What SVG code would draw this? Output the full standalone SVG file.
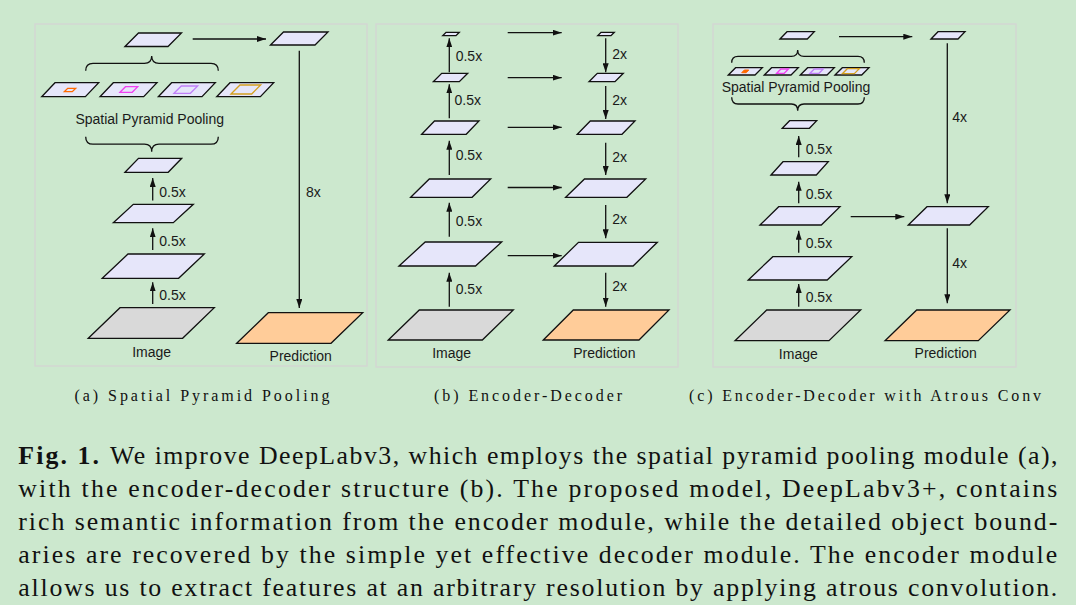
<svg xmlns="http://www.w3.org/2000/svg" width="1076" height="605" viewBox="0 0 1076 605">
<defs>
<marker id="ah" viewBox="0 0 9 6" refX="9" refY="3" markerWidth="9" markerHeight="6" markerUnits="userSpaceOnUse" orient="auto">
<path d="M0,0 L9,3 L0,6 z" fill="#111"/>
</marker>
<style>
.fm{fill:#E6E6FA;stroke:#111;stroke-width:1.3;stroke-linejoin:miter}
.img{fill:#D9D9D9;stroke:#111;stroke-width:1.3}
.pred{fill:#FFCC99;stroke:#111;stroke-width:1.3}
.panel{fill:none;stroke:#d3d8d3;stroke-width:1.6}
.c{stroke:#111;stroke-width:1.3;fill:none;marker-end:url(#ah)}
.br{stroke:#111;stroke-width:1.3;fill:none}
.lbl{font-family:"Liberation Sans",Arial,sans-serif;font-size:14px;fill:#1a1a1a}
.mid{text-anchor:middle}
.sub{font-family:"Liberation Serif","Times New Roman",serif;font-size:16px;fill:#111}
.cap{font-family:"Liberation Serif","Times New Roman",serif;font-size:25.8px;fill:#111}
.or{fill:none;stroke:#FF6A00;stroke-width:1.3}
.mg{fill:none;stroke:#F040F0;stroke-width:1.3}
.vi{fill:none;stroke:#C080F8;stroke-width:1.3}
.gd{fill:none;stroke:#D4A020;stroke-width:1.3}
</style>
</defs>
<rect x="0" y="0" width="1076" height="605" fill="#CCE8CE"/>

<g id="panels">
<rect class="panel" x="35" y="24" width="332" height="342"/>
<rect class="panel" x="376" y="24" width="302" height="343"/>
<rect class="panel" x="713" y="24" width="303" height="343"/>
</g>

<!-- Panel (a) -->
<g id="a-top"><polygon class="fm" points="125,46.5 138.5,33 181.5,33 168,46.5"/></g>
<g id="a-topR"><polygon class="fm" points="270.5,45 283.5,32 328,32 315,45"/></g>
<g id="a-spp">
<polygon class="fm" points="41.7,96.7 55,82.7 98.7,82.7 85.4,96.7"/>
<polygon class="or" points="64.3,91.7 67.7,88.3 75.7,88.3 72.3,91.7"/>
<polygon class="fm" points="100,96.7 113.3,82.7 157,82.7 143.7,96.7"/>
<polygon class="mg" points="120,92.3 125.5,86.7 137.7,86.7 132.2,92.3"/>
<polygon class="fm" points="158.3,96.7 171.6,82.7 215.3,82.7 202,96.7"/>
<polygon class="vi" points="174,93.3 181.3,86 197.7,86 190.4,93.3"/>
<polygon class="fm" points="216.7,96.7 230,82.7 273.7,82.7 260.4,96.7"/>
<polygon class="gd" points="231,94 240,85 260.7,85 251.7,94"/>
<text class="lbl mid" x="149.7" y="123.5">Spatial Pyramid Pooling</text>
<path class="br" d="M85.7,70.7 Q85.7,63.3 93,63.3 L144.4,63.3 Q151.7,63.3 151.7,56 Q151.7,63.3 159,63.3 L211,63.3 Q218.3,63.3 218.3,70.7"/>
<path class="br" d="M85.7,136.7 Q85.7,144.2 93,144.2 L144.4,144.2 Q151.7,144.2 151.7,151.7 Q151.7,144.2 159,144.2 L211,144.2 Q218.3,144.2 218.3,136.7"/>
</g>
<g id="a-f3"><polygon class="fm" points="125,172.3 138.5,158.3 181.7,158.3 168.2,172.3"/></g>
<g id="a-f2"><polygon class="fm" points="113.3,222.7 133.3,204.3 193.3,204.3 173.3,222.7"/></g>
<g id="a-f1"><polygon class="fm" points="102.3,278.3 128,254 204.3,254 178.6,278.3"/></g>
<g id="a-image"><polygon class="img" points="88.3,338.3 120,307.7 214.3,307.7 182.6,338.3"/><text class="lbl mid" x="151.7" y="357">Image</text></g>
<g id="a-pred"><polygon class="pred" points="236.7,343.3 268.3,312.7 362.7,312.7 331,343.3"/><text class="lbl mid" x="300.7" y="360.5">Prediction</text></g>

<!-- Panel (b) -->
<g id="b-e5"><polygon class="fm" points="442.7,35.7 446,32.3 459.3,32.3 456,35.7"/></g>
<g id="b-e4"><polygon class="fm" points="433.3,81.7 441.7,73.3 467.7,73.3 459.3,81.7"/></g>
<g id="b-e3"><polygon class="fm" points="421.7,134.3 434.5,121 479,121 466.2,134.3"/></g>
<g id="b-e2"><polygon class="fm" points="410.7,197.3 429.3,179 490.7,179 472.1,197.3"/></g>
<g id="b-e1"><polygon class="fm" points="399,266 425.2,242 501.7,242 475.5,266"/></g>
<g id="b-image"><polygon class="img" points="388.3,340 419.3,310 513.3,310 482.3,340"/><text class="lbl mid" x="451.7" y="358.3">Image</text></g>
<g id="b-d5"><polygon class="fm" points="597.7,35.7 601,32.3 614.3,32.3 611,35.7"/></g>
<g id="b-d4"><polygon class="fm" points="589,81.7 597.3,73.3 623.3,73.3 615,81.7"/></g>
<g id="b-d3"><polygon class="fm" points="577.3,134.3 590.3,121 635,121 622,134.3"/></g>
<g id="b-d2"><polygon class="fm" points="565.7,197.3 584.5,179 645.7,179 626.9,197.3"/></g>
<g id="b-d1"><polygon class="fm" points="554.3,266 578.5,242.3 657.3,242.3 633.1,266"/></g>
<g id="b-pred"><polygon class="pred" points="543.3,340 573.3,310 669,310 639,340"/><text class="lbl mid" x="604.3" y="358.3">Prediction</text></g>

<!-- Panel (c) -->
<g id="c-top"><polygon class="fm" points="780,39 787,31.7 814.3,31.7 807.3,39"/></g>
<g id="c-topR"><polygon class="fm" points="931,39 938,31.7 965,31.7 958,39"/></g>
<g id="c-spp">
<polygon class="fm" points="728.3,75 735.6,67.7 762.3,67.7 755,75"/>
<polygon points="741.7,72.7 744.3,70 748.8,70 746.2,72.7" fill="#FF6A00" stroke="#FF6A00" stroke-width="1"/>
<polygon class="fm" points="764.3,75 771.6,67.7 798.3,67.7 791,75"/>
<polygon class="mg" points="776.7,73.3 781,69 788.5,69 784.2,73.3"/>
<polygon class="fm" points="800.3,75 807.6,67.7 834.3,67.7 827,75"/>
<polygon class="vi" points="810,73.3 814.3,69 823.3,69 819,73.3"/>
<polygon class="fm" points="835,75 842.3,67.7 869,67.7 861.7,75"/>
<polygon class="gd" points="842.3,73.7 847.3,68.7 859.3,68.7 854.3,73.7"/>
<text class="lbl mid" x="796" y="91.5">Spatial Pyramid Pooling</text>
<path class="br" d="M731.7,62.7 Q731.7,56.4 738,56.4 L791.4,56.4 Q797.7,56.4 797.7,50 Q797.7,56.4 804,56.4 L858,56.4 Q864.3,56.4 864.3,62.7"/>
<path class="br" d="M731.7,97.3 Q731.7,104 738,104 L791.4,104 Q797.7,104 797.7,110.7 Q797.7,104 804,104 L858,104 Q864.3,104 864.3,97.3"/>
</g>
<g id="c-f4"><polygon class="fm" points="782.3,128.3 789.6,120.7 816.7,120.7 809.4,128.3"/></g>
<g id="c-f3"><polygon class="fm" points="771,175 783,161.7 828.3,161.7 816.3,175"/></g>
<g id="c-f2"><polygon class="fm" points="760,225 778.7,206.7 840,206.7 821.3,225"/></g>
<g id="c-f1"><polygon class="fm" points="748.3,280 772.8,256.7 851.7,256.7 827.2,280"/></g>
<g id="c-image"><polygon class="img" points="735,340.7 766.7,310 860.7,310 829,340.7"/><text class="lbl mid" x="798.3" y="359">Image</text></g>
<g id="c-dec"><polygon class="fm" points="908.3,225 927,206.7 988.3,206.7 969.6,225"/></g>
<g id="c-pred"><polygon class="pred" points="885,340.7 916.7,310 1010,310 978.3,340.7"/><text class="lbl mid" x="945.7" y="358.3">Prediction</text></g>

<g id="connectors">
<!-- a -->
<line class="c" x1="192.7" y1="39" x2="266" y2="39"/>
<line class="c" x1="299.3" y1="50.7" x2="299.3" y2="308"/>
<line class="c" x1="152.7" y1="200.5" x2="152.7" y2="178"/>
<line class="c" x1="152.7" y1="250" x2="152.7" y2="228.3"/>
<line class="c" x1="152.7" y1="304" x2="152.7" y2="282.3"/>
<!-- b -->
<line class="c" x1="449.3" y1="72.3" x2="449.3" y2="38.3"/>
<line class="c" x1="449.3" y1="118.3" x2="449.3" y2="84.3"/>
<line class="c" x1="449.3" y1="175" x2="449.3" y2="140.7"/>
<line class="c" x1="449.3" y1="236.7" x2="449.3" y2="202.7"/>
<line class="c" x1="449.3" y1="306.7" x2="449.3" y2="272.7"/>
<line class="c" x1="507.7" y1="32.7" x2="561.7" y2="32.7"/>
<line class="c" x1="507.7" y1="77.7" x2="561.7" y2="77.7"/>
<line class="c" x1="507.7" y1="127.3" x2="561.7" y2="127.3"/>
<line class="c" x1="507.7" y1="187.5" x2="561.7" y2="187.5"/>
<line class="c" x1="507.7" y1="255.7" x2="561.7" y2="255.7"/>
<line class="c" x1="605.7" y1="38.3" x2="605.7" y2="72.3"/>
<line class="c" x1="605.7" y1="86" x2="605.7" y2="119"/>
<line class="c" x1="605.7" y1="142.7" x2="605.7" y2="175"/>
<line class="c" x1="605.7" y1="205" x2="605.7" y2="238.3"/>
<line class="c" x1="605.7" y1="272.7" x2="605.7" y2="306.7"/>
<!-- c -->
<line class="c" x1="839" y1="36.7" x2="912.3" y2="36.7"/>
<line class="c" x1="947.3" y1="43.3" x2="947.3" y2="203.3"/>
<line class="c" x1="798.7" y1="157.3" x2="798.7" y2="136"/>
<line class="c" x1="798.7" y1="203.3" x2="798.7" y2="181.7"/>
<line class="c" x1="798.7" y1="252.7" x2="798.7" y2="230.7"/>
<line class="c" x1="798.7" y1="306.7" x2="798.7" y2="284"/>
<line class="c" x1="850.7" y1="216.7" x2="904.3" y2="216.7"/>
<line class="c" x1="947.3" y1="228.3" x2="947.3" y2="303.3"/>
</g>

<g id="edge-labels">
<text class="lbl" x="306" y="197">8x</text>
<text class="lbl" x="159.3" y="197">0.5x</text>
<text class="lbl" x="159.3" y="246">0.5x</text>
<text class="lbl" x="159.3" y="300">0.5x</text>
<text class="lbl" x="455.7" y="60.7">0.5x</text>
<text class="lbl" x="454.5" y="105">0.5x</text>
<text class="lbl" x="455.7" y="160">0.5x</text>
<text class="lbl" x="455.7" y="225.7">0.5x</text>
<text class="lbl" x="455.7" y="294">0.5x</text>
<text class="lbl" x="612.3" y="59.3">2x</text>
<text class="lbl" x="612.3" y="105">2x</text>
<text class="lbl" x="612.3" y="161.7">2x</text>
<text class="lbl" x="612.3" y="224.3">2x</text>
<text class="lbl" x="612.3" y="291">2x</text>
<text class="lbl" x="952.3" y="122.3">4x</text>
<text class="lbl" x="805.7" y="154.3">0.5x</text>
<text class="lbl" x="805.7" y="199">0.5x</text>
<text class="lbl" x="805.7" y="248.3">0.5x</text>
<text class="lbl" x="805.7" y="302.3">0.5x</text>
<text class="lbl" x="952.3" y="268.3">4x</text>
</g>

<g id="subcaptions">
<text class="sub" x="74.5" y="401" textLength="255" lengthAdjust="spacing">(a) Spatial Pyramid Pooling</text>
<text class="sub" x="434" y="401" textLength="188" lengthAdjust="spacing">(b) Encoder-Decoder</text>
<text class="sub" x="689" y="401" textLength="352" lengthAdjust="spacing">(c) Encoder-Decoder with Atrous Conv</text>
</g>

<g id="caption">
<text class="cap" x="18.3" y="464.3" font-weight="bold" textLength="80.7" lengthAdjust="spacing">Fig. 1.</text>
<text class="cap" x="110" y="464.3" textLength="947.5" lengthAdjust="spacing">We improve DeepLabv3, which employs the spatial pyramid pooling module (a),</text>
<text class="cap" x="18.3" y="497.3" textLength="1039" lengthAdjust="spacing">with the encoder-decoder structure (b). The proposed model, DeepLabv3+, contains</text>
<text class="cap" x="18.3" y="530.1" textLength="1039" lengthAdjust="spacing">rich semantic information from the encoder module, while the detailed object bound-</text>
<text class="cap" x="18.3" y="563.1" textLength="1039" lengthAdjust="spacing">aries are recovered by the simple yet effective decoder module. The encoder module</text>
<text class="cap" x="18.3" y="596" textLength="1039" lengthAdjust="spacing">allows us to extract features at an arbitrary resolution by applying atrous convolution.</text>
</g>
</svg>
